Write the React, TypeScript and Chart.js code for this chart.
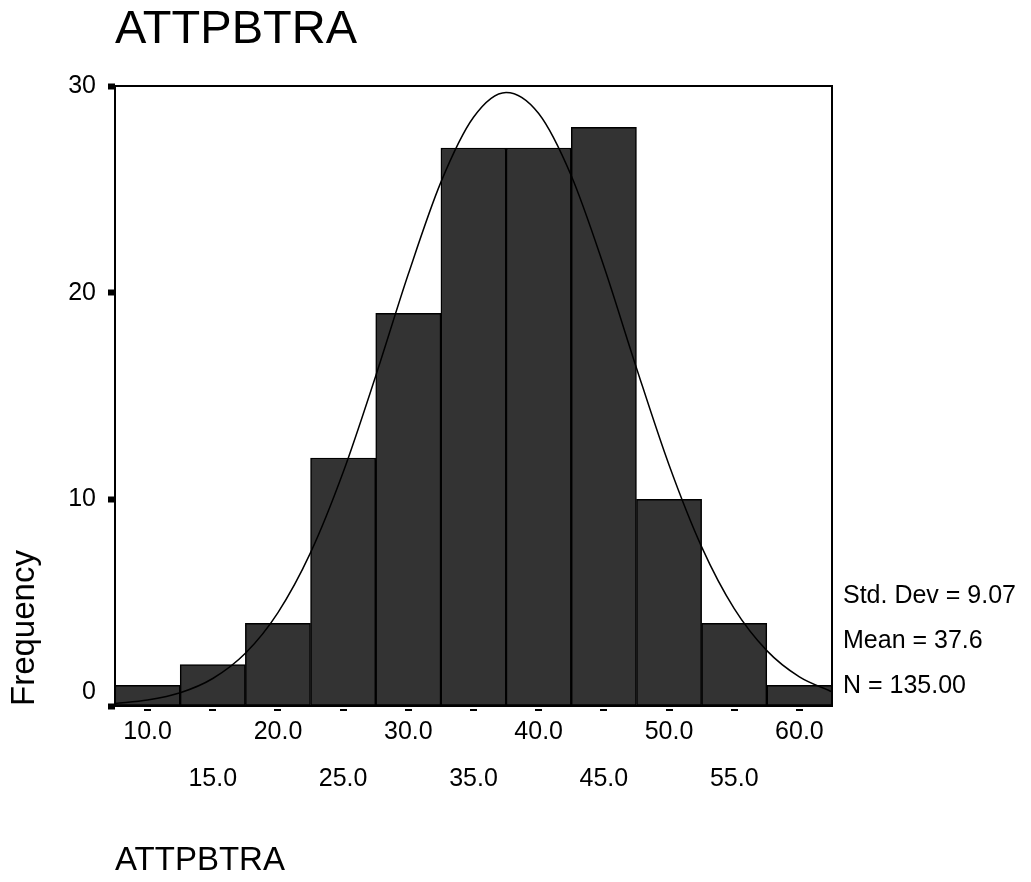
import React, { useEffect, useRef } from 'react';
import { Chart, registerables } from 'chart.js';

Chart.register(...registerables);

// ---- Data ----
const binCenters = [10, 15, 20, 25, 30, 35, 40, 45, 50, 55, 60];
const frequencies = [1, 2, 4, 12, 19, 27, 27, 28, 10, 4, 1];
// Normal curve overlay, read at every 2.5 units
const curveX = [7.5, 10, 12.5, 15, 17.5, 20, 22.5, 25, 27.5, 30, 32.5, 35, 37.5, 40, 42.5, 45, 47.5, 50, 52.5, 55, 57.5, 60, 62.5];
const curveY = [0.12, 0.29, 0.64, 1.33, 2.55, 4.52, 7.42, 11.31, 15.97, 20.9, 25.35, 28.49, 29.69, 28.67, 25.66, 21.28, 16.36, 11.66, 7.7, 4.71, 2.68, 1.41, 0.69];
const yTicks = [0, 10, 20, 30];
const xMin = 7.5;
const xMax = 62.5;
const statsLines = ['Std. Dev = 9.07', 'Mean = 37.6', 'N = 135.00'];
const chartTitle = 'ATTPBTRA';
const xAxisTitle = 'ATTPBTRA';
const yAxisTitle = 'Frequency';

const FONT = "'Liberation Sans', Arial, Helvetica, sans-serif";

const decorPlugin = {
  id: 'decor',
  afterDatasetsDraw(chart: any) {
    const { ctx, chartArea: a, scales } = chart;
    ctx.save();
    ctx.strokeStyle = '#000';
    ctx.lineWidth = 2;
    ctx.strokeRect(a.left, a.top, a.right - a.left, a.bottom - a.top);
    const xs = scales.x;
    ctx.fillStyle = '#000';
    xs.ticks.forEach((t: any) => {
      const px = xs.getPixelForValue(t.value);
      ctx.fillRect(Math.round(px - 3.5), a.bottom + 3, 7, 2);
    });
    ctx.restore();
  },
  afterDraw(chart: any) {
    const { ctx, chartArea: a } = chart;
    ctx.save();
    ctx.fillStyle = '#000';
    ctx.textAlign = 'left';
    ctx.textBaseline = 'alphabetic';
    ctx.font = `47px ${FONT}`;
    ctx.fillText(chartTitle, a.left, 43);
    ctx.font = `25px ${FONT}`;
    const n = statsLines.length;
    statsLines.forEach((s, i) => {
      ctx.fillText(s, a.right + 11, a.bottom - 13 - (n - 1 - i) * 45);
    });
    ctx.restore();
  },
};

export default function App() {
  const canvasRef = useRef<HTMLCanvasElement | null>(null);

  useEffect(() => {
    if (!canvasRef.current) return;
    const chart = new Chart(canvasRef.current, {
      type: 'bar',
      data: {
        datasets: [
          {
            type: 'line',
            label: 'Normal',
            data: curveX.map((x, i) => ({ x, y: curveY[i] })),
            borderColor: '#000',
            borderWidth: 1.5,
            pointRadius: 0,
            fill: false,
            cubicInterpolationMode: 'monotone',
            order: 0,
          } as any,
          {
            type: 'bar',
            label: 'Frequency',
            data: binCenters.map((x, i) => ({ x, y: frequencies[i] })),
            backgroundColor: '#333333',
            borderColor: '#000',
            borderWidth: 1.5,
            borderSkipped: false,
            barPercentage: 1,
            categoryPercentage: 1,
            order: 1,
          } as any,
        ],
      },
      options: {
        responsive: false,
        maintainAspectRatio: false,
        animation: false,
        events: [],
        layout: { padding: { top: 86, right: 199, left: 0, bottom: 0 } },
        plugins: {
          legend: { display: false },
          tooltip: { enabled: false },
          title: { display: false },
        },
        scales: {
          x: {
            type: 'linear',
            min: xMin,
            max: xMax,
            offset: false,
            afterBuildTicks: (s: any) => {
              s.ticks = binCenters.map((v) => ({ value: v }));
            },
            afterFit: (s: any) => {
              s.height = 176;
            },
            grid: { display: false, drawTicks: false, offset: false },
            border: { display: false },
            ticks: {
              autoSkip: false,
              maxRotation: 0,
              minRotation: 0,
              padding: 3,
              color: '#000',
              font: { family: FONT, size: 25, lineHeight: 1.88 },
              callback: (v: any, i: number) => {
                const s = Number(v).toFixed(1);
                return i % 2 === 0 ? [s, ''] : ['', s];
              },
            },
            title: {
              display: true,
              text: xAxisTitle,
              align: 'start',
              color: '#000',
              font: { family: FONT, size: 33, lineHeight: 1.2 },
              padding: { top: 0, bottom: 1 },
            },
          },
          y: {
            min: 0,
            max: 30,
            afterBuildTicks: (s: any) => {
              s.ticks = yTicks.map((v) => ({ value: v }));
            },
            afterFit: (s: any) => {
              s.width = 115;
            },
            grid: {
              drawOnChartArea: false,
              drawTicks: true,
              tickLength: 7,
              tickWidth: 6,
              tickColor: '#000',
            },
            border: { display: false },
            ticks: {
              padding: 12,
              color: '#000',
              font: { family: FONT, size: 25, lineHeight: 1.12 },
              callback: (v: any) => (Number(v) === 0 ? ['0', ''] : String(v)),
            },
            title: {
              display: true,
              text: yAxisTitle,
              align: 'start',
              color: '#000',
              font: { family: FONT, size: 33, lineHeight: 1.2 },
              padding: { top: 5, bottom: 0 },
            },
          },
        },
      } as any,
      plugins: [decorPlugin],
    });
    return () => chart.destroy();
  }, []);

  return (
    <div style={{ position: 'absolute', left: 0, top: 0, width: 1031, height: 882, background: '#fff' }}>
      <canvas ref={canvasRef} width={1031} height={882} style={{ display: 'block' }} />
    </div>
  );
}
